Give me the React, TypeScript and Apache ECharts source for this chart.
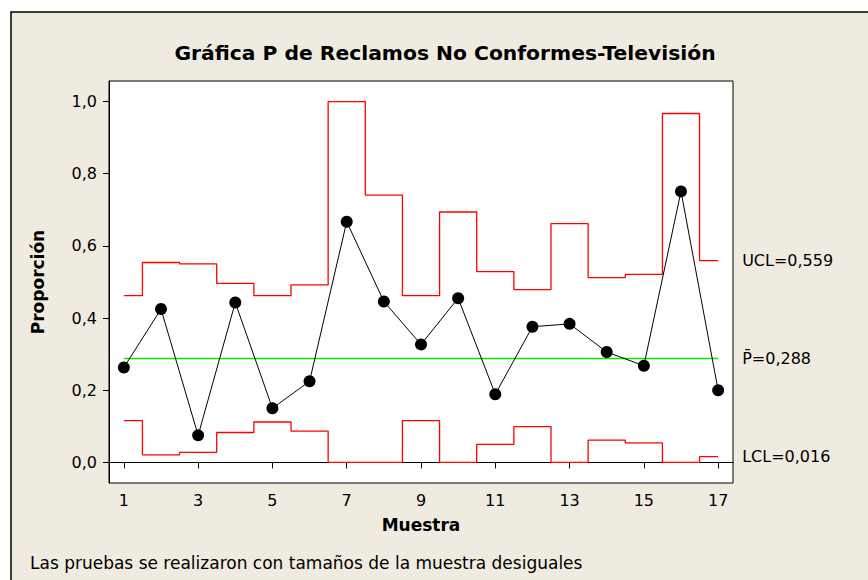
import React, { useEffect, useRef } from "react";
import * as echarts from "echarts";

const samples = [1, 2, 3, 4, 5, 6, 7, 8, 9, 10, 11, 12, 13, 14, 15, 16, 17];
const proportions = [0.263, 0.425, 0.075, 0.443, 0.15, 0.225, 0.667, 0.446, 0.327, 0.455, 0.189, 0.376, 0.384, 0.306, 0.268, 0.751, 0.2];
const ucl = [0.462, 0.554, 0.55, 0.496, 0.462, 0.492, 1.0, 0.741, 0.462, 0.694, 0.529, 0.479, 0.662, 0.512, 0.521, 0.967, 0.559];
const lcl = [0.116, 0.021, 0.028, 0.083, 0.112, 0.087, 0, 0, 0.116, 0, 0.05, 0.099, 0, 0.062, 0.054, 0, 0.016];
const pBar = 0.288;
const xTicks = [1, 3, 5, 7, 9, 11, 13, 15, 17];
const yTicks = [0, 0.2, 0.4, 0.6, 0.8, 1.0];

const titleText = "Gráfica P de Reclamos No Conformes-Televisión";
const footerText = "Las pruebas se realizaron con tamaños de la muestra desiguales";
const uclLabel = "UCL=0,559";
const pLabel = "P\u0304=0,288";
const lclLabel = "LCL=0,016";

const FONT = "DejaVu Sans";

export default function App() {
  const ref = useRef<HTMLDivElement>(null);
  useEffect(() => {
    if (!ref.current) return;
    const chart = echarts.init(ref.current, undefined, { renderer: "svg" });
    const pair = (arr: number[]) => samples.map((s, i) => [s, arr[i]]);
    const endLabel = (text: string) => ({
      show: true,
      formatter: text,
      color: "#000",
      fontFamily: FONT,
      fontSize: 16,
      distance: 24,
    });
    chart.setOption({
      animation: false,
      backgroundColor: "#ffffff",
      textStyle: { fontFamily: FONT },
      title: {
        text: titleText,
        left: 440,
        top: 38,
        textAlign: "center",
        textStyle: { fontFamily: FONT, fontWeight: "bold", fontSize: 20.3, color: "#000" },
      },
      graphic: [
        {
          type: "rect",
          z: -10,
          silent: true,
          shape: { x: 11, y: 12, width: 900, height: 620 },
          style: { fill: "#EFEBE1", stroke: "#000", lineWidth: 1.5 },
        },
        {
          type: "text",
          x: 30,
          y: 563,
          style: {
            text: footerText,
            fontFamily: FONT,
            fontSize: 17,
            fill: "#000",
            verticalAlign: "middle",
          },
        },
      ],
      grid: {
        left: 109,
        top: 81,
        right: 135,
        bottom: 97,
        show: true,
        backgroundColor: "#ffffff",
        borderColor: "#000",
        borderWidth: 1,
      },
      xAxis: {
        type: "value",
        min: 0.6,
        max: 17.4,
        name: "Muestra",
        nameLocation: "middle",
        nameGap: 33,
        nameTextStyle: { fontFamily: FONT, fontWeight: "bold", fontSize: 17, color: "#000" },
        splitLine: { show: false },
        axisLine: { show: true, lineStyle: { color: "#000", width: 1 } },
        axisTick: { show: true, customValues: xTicks, length: 6, lineStyle: { color: "#000" } },
        axisLabel: {
          customValues: xTicks,
          color: "#000",
          fontFamily: FONT,
          fontSize: 16,
          margin: 9,
        },
      },
      yAxis: {
        type: "value",
        min: -0.057,
        max: 1.057,
        name: "Proporción",
        nameLocation: "middle",
        nameGap: 63,
        nameTextStyle: { fontFamily: FONT, fontWeight: "bold", fontSize: 17, color: "#000" },
        splitLine: { show: false },
        axisLine: { show: true, lineStyle: { color: "#000", width: 1 } },
        axisTick: { show: true, customValues: yTicks, length: 6, lineStyle: { color: "#000" } },
        axisLabel: {
          customValues: yTicks,
          color: "#000",
          fontFamily: FONT,
          fontSize: 16,
          margin: 12,
          formatter: (v: number) => v.toFixed(1).replace(".", ","),
        },
      },
      series: [
        {
          name: "UCL",
          type: "line",
          step: "middle",
          data: pair(ucl),
          showSymbol: false,
          symbol: "none",
          lineStyle: { color: "#FF0000", width: 1.3 },
          endLabel: endLabel(uclLabel),
        },
        {
          name: "LCL",
          type: "line",
          step: "middle",
          data: pair(lcl),
          showSymbol: false,
          symbol: "none",
          lineStyle: { color: "#FF0000", width: 1.3 },
          endLabel: endLabel(lclLabel),
        },
        {
          name: "P",
          type: "line",
          data: [
            [samples[0], pBar],
            [samples[samples.length - 1], pBar],
          ],
          showSymbol: false,
          symbol: "none",
          lineStyle: { color: "#00EE00", width: 1.3 },
          endLabel: endLabel(pLabel),
        },
        {
          name: "Proporción",
          type: "line",
          data: pair(proportions),
          symbol: "circle",
          symbolSize: 12,
          itemStyle: { color: "#000" },
          lineStyle: { color: "#000", width: 1 },
          z: 5,
        },
      ],
    });
    return () => chart.dispose();
  }, []);
  return (
    <div
      ref={ref}
      style={{ position: "fixed", left: 0, top: 0, width: 868, height: 580 }}
    />
  );
}
